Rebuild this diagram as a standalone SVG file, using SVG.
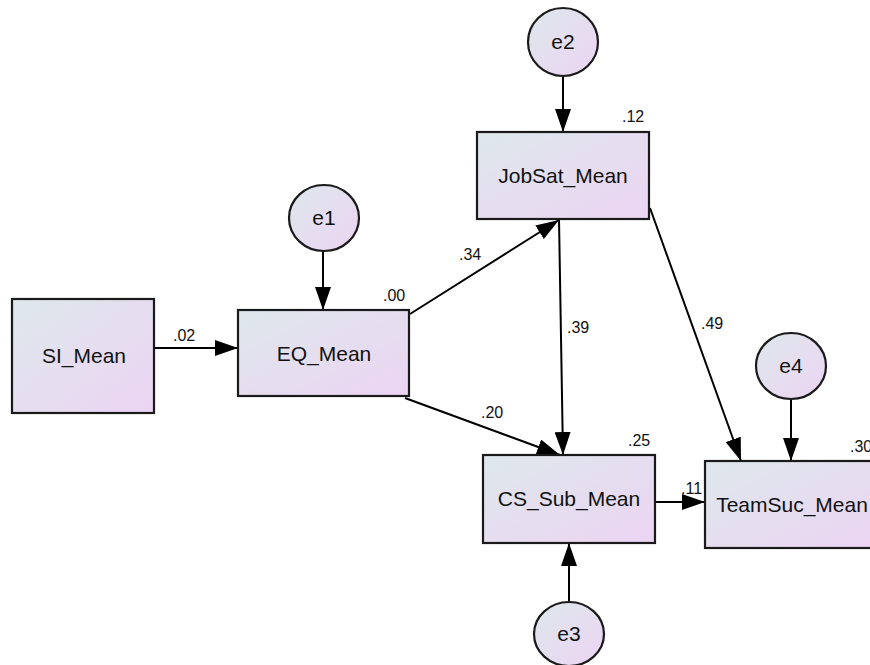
<svg xmlns="http://www.w3.org/2000/svg" width="870" height="665" viewBox="0 0 870 665">
<defs>
<linearGradient id="g" x1="0" y1="0" x2="1" y2="1">
<stop offset="0" stop-color="#dee8ec"/>
<stop offset="1" stop-color="#ecd4f3"/>
</linearGradient>
<marker id="ah" markerUnits="userSpaceOnUse" markerWidth="24" markerHeight="16" viewBox="0 0 24 16" refX="23" refY="8" orient="auto">
<path d="M0,0 L23,8 L0,16 Z" fill="#000"/>
</marker>
<style>
.box{fill:url(#g);stroke:#1a1a1a;stroke-width:2.2}
.lbl{font-family:"Liberation Sans",Arial,sans-serif;font-size:21px;fill:#111;text-anchor:middle}
.num{font-family:"Liberation Sans",Arial,sans-serif;font-size:16px;fill:#111}
.edge{stroke:#000;stroke-width:2;fill:none;marker-end:url(#ah)}
</style>
</defs>
<rect width="870" height="665" fill="#fff"/>
<g id="connectors">
<line class="edge" x1="154" y1="348" x2="238" y2="348"/>
<line class="edge" x1="323" y1="250" x2="323" y2="310"/>
<line class="edge" x1="563" y1="76" x2="563" y2="132"/>
<line class="edge" x1="410" y1="314" x2="559" y2="220"/>
<line class="edge" x1="405" y1="398" x2="560" y2="455"/>
<line class="edge" x1="559" y1="219" x2="563" y2="455"/>
<line class="edge" x1="650" y1="208" x2="741" y2="461"/>
<line class="edge" x1="655" y1="502" x2="705" y2="502"/>
<line class="edge" x1="791" y1="399" x2="791" y2="461"/>
<line class="edge" x1="569" y1="602" x2="569" y2="543"/>
<text class="num" x="173" y="341">.02</text>
<text class="num" x="459" y="260">.34</text>
<text class="num" x="481" y="418">.20</text>
<text class="num" x="567" y="333">.39</text>
<text class="num" x="701" y="329">.49</text>
<text class="num" x="681" y="494">.11</text>
</g>
<g id="SI_Mean">
<rect class="box" x="12" y="299" width="142" height="114"/>
<text class="lbl" x="84" y="363">SI_Mean</text>
</g>
<g id="EQ_Mean">
<rect class="box" x="238" y="310" width="171" height="86"/>
<text class="lbl" x="324" y="361">EQ_Mean</text>
<text class="num" x="383" y="301">.00</text>
</g>
<g id="JobSat_Mean">
<rect class="box" x="477" y="132" width="172" height="87"/>
<text class="lbl" x="563" y="183">JobSat_Mean</text>
<text class="num" x="622" y="122">.12</text>
</g>
<g id="CS_Sub_Mean">
<rect class="box" x="483" y="455" width="172" height="88"/>
<text class="lbl" x="569" y="506">CS_Sub_Mean</text>
<text class="num" x="628" y="446">.25</text>
</g>
<g id="TeamSuc_Mean">
<rect class="box" x="705" y="461" width="174" height="87"/>
<text class="lbl" x="792" y="512">TeamSuc_Mean</text>
<text class="num" x="850" y="452">.30</text>
</g>
<g id="e1">
<ellipse class="box" cx="324" cy="218" rx="35" ry="33"/>
<text class="lbl" x="324" y="225">e1</text>
</g>
<g id="e2">
<ellipse class="box" cx="563" cy="42" rx="35" ry="34"/>
<text class="lbl" x="563" y="49">e2</text>
</g>
<g id="e3">
<ellipse class="box" cx="569" cy="634" rx="35" ry="32"/>
<text class="lbl" x="569" y="641">e3</text>
</g>
<g id="e4">
<ellipse class="box" cx="791" cy="366" rx="35" ry="33"/>
<text class="lbl" x="791" y="373">e4</text>
</g>
</svg>
